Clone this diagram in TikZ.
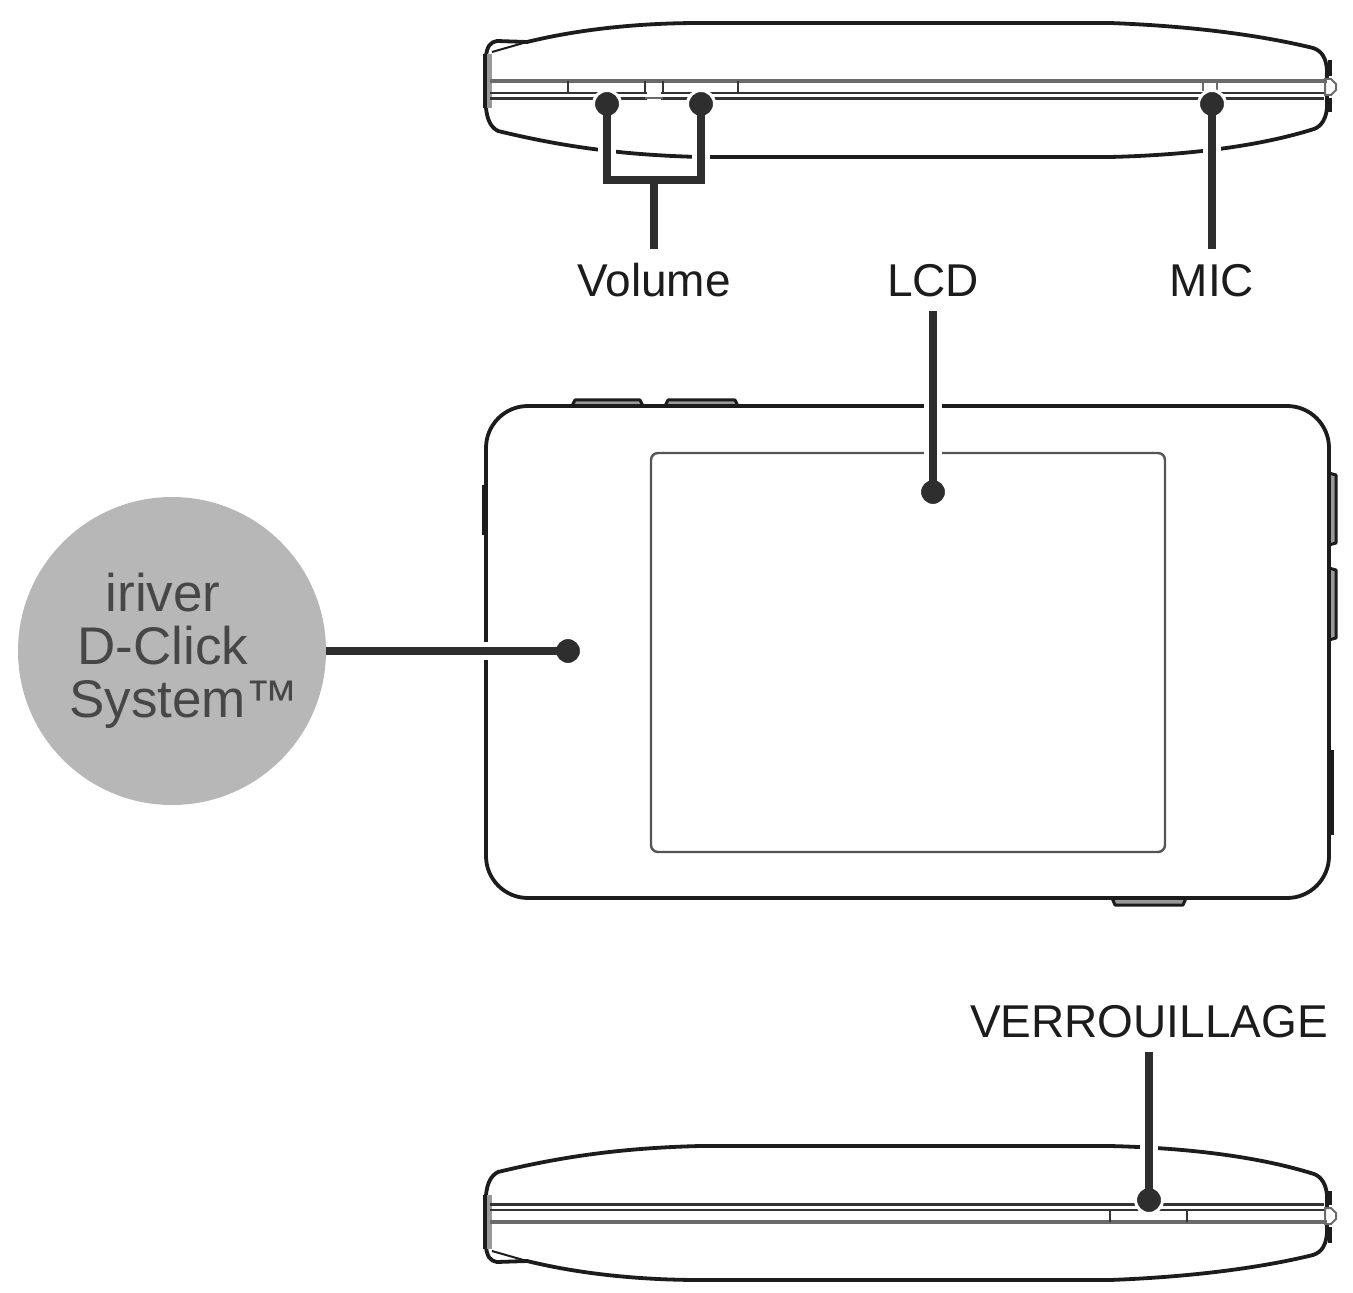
\documentclass[tikz,border=0pt]{standalone}
\usepackage{fontspec}
\setmainfont{Liberation Sans}
\usepackage{tikz}

\definecolor{inkdark}{HTML}{1C1C1C}
\definecolor{leaderdark}{HTML}{2E2E2E}
\definecolor{railgray}{HTML}{6A6A6A}
\definecolor{padgray}{HTML}{999999}
\definecolor{badgegray}{HTML}{B7B7B7}
\definecolor{badgetext}{HTML}{474747}

\tikzset{
	shell/.style = {draw=inkdark, line width=1.9pt, line join=round},
	rail/.style = {draw=inkdark!90, line width=1.3pt},
	pale/.style = {draw=railgray, line width=1.7pt},
	pad/.style = {draw=inkdark, line width=1.5pt, fill=padgray, line join=round},
	leader/.style = {draw=leaderdark, line width=4.3pt, line join=miter, preaction={draw=white, line width=9pt, shorten >=7pt, shorten <=7pt}},
	dot/.style = {circle, draw=white, fill=leaderdark, line width=1.5pt, minimum size=13.5pt, inner sep=0pt},
	callout/.style = {text=inkdark, font=\fontsize{23}{23}\selectfont, text height=16.5pt, text depth=0pt, inner xsep=0pt, inner ysep=7.25pt},
	badgeline/.style = {text=badgetext, font=\fontsize{26.5}{26.5}\selectfont, text height=19pt, text depth=0pt, inner sep=0pt},
	sideview/.pic = {
		\draw[shell, fill=white] (486,56) .. controls (487,47) and (490,42) .. (497,41) -- (527,42)
			.. controls (580,29) and (640,23) .. (700,23) -- (1110,23)
			.. controls (1190,26) and (1260,35) .. (1313,48)
			.. controls (1322,51) and (1326,58) .. (1327,70) -- (1327,108)
			.. controls (1326,118) and (1322,126) .. (1314,129)
			.. controls (1260,146) and (1190,155) .. (1110,157) -- (700,157)
			.. controls (620,155) and (560,146) .. (498,131)
			.. controls (490,127) and (487,118) .. (486,108) -- cycle;
		\draw[shell, line width=1pt] (492,52) -- (527,42);
		\fill[padgray] (486,54) rectangle (492,108);
		\draw[shell] (485,54) -- (485,108);
		\draw[shell] (1330,60) -- (1330,76);
		\draw[shell] (1330,98) -- (1330,112);
		\draw[pale, fill=white, line width=1pt] (1325,79) -- (1331,79) -- (1336,84) -- (1336,90) -- (1331,95) -- (1325,95) -- cycle;
		\draw[pale] (490,81) -- (1327,81);
		\draw[rail] (490,93) -- (1324,93);
		\draw[rail] (490,98.5) -- (1324,98.5);
	}
}

\begin{document}
\begin{tikzpicture}[x=0.5pt, y=-0.5pt]
	\useasboundingbox (0,0) rectangle (1353,1293);

	\pic at (0,0) {sideview};
	\pic[yscale=-1] at (0,1303) {sideview};

	\fill[white] (647,90) rectangle (661,100);
	\draw[railgray, line width=1pt] (645,98) -- (663,98);
	\draw[rail] (568,81) -- (568,93);
	\draw[rail] (645,81) -- (645,93);
	\draw[rail] (663,81) -- (663,93);
	\draw[rail] (738,81) -- (738,93);
	\draw[railgray, line width=1.2pt] (1203,81) -- (1203,91);
	\draw[railgray, line width=1.2pt] (1217,81) -- (1217,91);
	\draw[rail] (1110,1210) -- (1110,1222);
	\draw[rail] (1187,1210) -- (1187,1222);

	\draw[pad] (572,406) -- (575,400) -- (640,400) -- (643,406);
	\draw[pad] (665,406) -- (668,400) -- (735,400) -- (738,406);
	\draw[pad] (1329,473) -- (1336,475) -- (1336,543) -- (1329,545);
	\draw[pad] (1329,568) -- (1336,570) -- (1336,638) -- (1329,640);
	\draw[pad] (1112,898) -- (1115,905) -- (1183,905) -- (1186,898);
	\draw[shell] (484,485) -- (484,535);
	\draw[shell, line width=2.6pt] (1331,750) -- (1331,835);
	\draw[shell, fill=white, rounded corners=21] (486,406) rectangle (1329,898);
	\draw[draw=inkdark!75, line width=1.2pt, rounded corners=3.5] (651,453) rectangle (1165,852);

	\node[dot] (volleft) at (607,104) {};
	\node[dot] (volright) at (701,104) {};
	\node[dot] (micdot) at (1212,104) {};
	\node[dot] (lcddot) at (933,492) {};
	\node[dot] (clickdot) at (568,651) {};
	\node[dot] (lockdot) at (1149,1200) {};

	\node[circle, fill=badgegray, minimum size=154pt, inner sep=0pt] (badge) at (172,651) {};
	\node[badgeline] (iriver) at (163,592) {iriver};
	\node[badgeline] (dclick) at (163,645) {D-Click};
	\node[badgeline] (system) at (184,698) {System™};

	\node[callout] (volume) at (654,280) {Volume};
	\node[callout] (lcd) at (933,280) {LCD};
	\node[callout] (mic) at (1212,280) {MIC};
	\node[callout] (lock) at (1149,1021) {VERROUILLAGE};
	\coordinate (volbar) at (654,180);

	\draw[leader] (volleft.center) |- (volbar) -| (volright.center);
	\draw[leader] (volume.north) -- (volbar);
	\draw[leader] (mic.north) -- (micdot.center);
	\draw[leader] (lcd.south) -- (lcddot.center);
	\draw[leader] (badge.east) -- (clickdot.center);
	\draw[leader] (lock.south) -- (lockdot.center);
\end{tikzpicture}
\end{document}
